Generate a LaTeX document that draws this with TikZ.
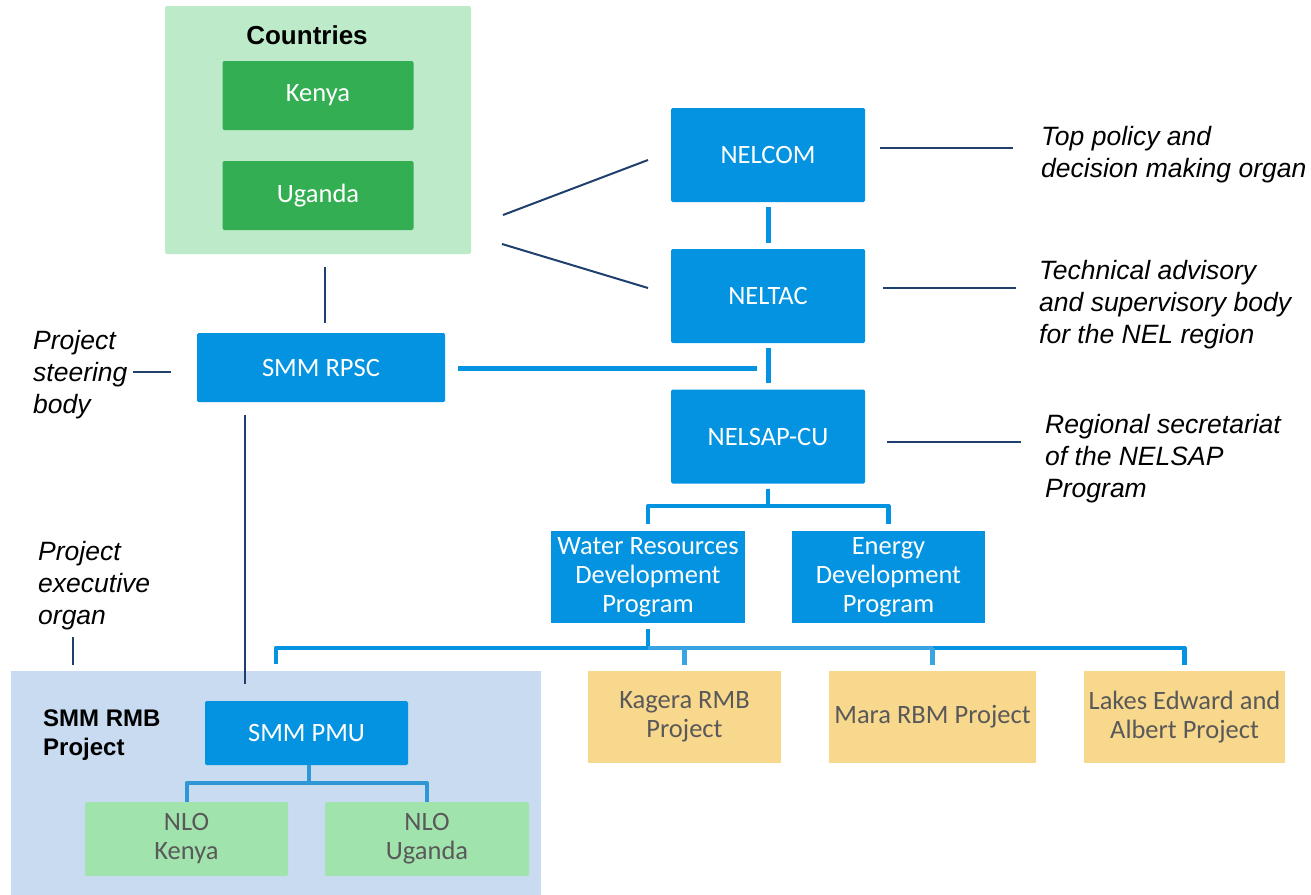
\documentclass[tikz,border=0pt]{standalone}
\usepackage{fontspec}
\newfontfamily\calfont{Carlito}
\newfontfamily\arialfont{Liberation Sans}
\definecolor{cblue}{HTML}{0393E0}
\definecolor{lblue}{HTML}{3AA4E2}
\definecolor{pblue}{HTML}{2F98D4}
\definecolor{navy}{HTML}{1F3F6E}
\definecolor{ggreen}{HTML}{34AE52}
\definecolor{gbgc}{HTML}{BDEBC9}
\definecolor{nlogreen}{HTML}{A0E3AC}
\definecolor{yell}{HTML}{F8D88C}
\definecolor{rmbbg}{HTML}{C9DBF1}
\definecolor{gtext}{HTML}{595959}
\tikzset{
  x=1pt,y=-1pt,
  boxfont/.style={font=\calfont\fontsize{26.5}{29}\selectfont},
  bluebox/.style={boxfont,fill=cblue,text=white,inner sep=0pt,align=center,rounded corners=1.5pt},
  greenbox/.style={boxfont,fill=ggreen,text=white,inner sep=0pt,align=center,rounded corners=2pt},
  nlobox/.style={boxfont,fill=nlogreen,text=gtext,inner sep=0pt,align=center,rounded corners=2pt},
  yellbox/.style={boxfont,fill=yell,text=gtext,inner sep=0pt,align=center},
  bgbox/.style={inner sep=0pt,rounded corners=2pt},
  anno/.style={inner sep=0pt,anchor=west,align=left,font=\arialfont\itshape\fontsize{26.5}{32}\selectfont},
  thinline/.style={draw=navy,line width=2pt},
  thickline/.style={draw=cblue,line width=5pt},
  brline/.style={draw=cblue,line width=4.5pt,line join=round},
}
\begin{document}
\begin{tikzpicture}
\useasboundingbox (0,0) rectangle (1311,894);
% backgrounds
\node[bgbox,fill=gbgc,minimum width=306,minimum height=248] (cbg) at (318,130) {};
\node[bgbox,fill=rmbbg,rounded corners=0pt,minimum width=530,minimum height=224] (rmb) at (276,783) {};
\node[inner sep=0pt,font=\arialfont\bfseries\fontsize{26}{30}\selectfont] (countries) at (307,35) {Countries};
\node[inner sep=0pt,anchor=west,align=left,font=\arialfont\bfseries\fontsize{24}{29}\selectfont] (rmblabel) at (43,735.5) {SMM RMB\\Project};
% boxes
\node[greenbox,minimum width=191,minimum height=69] (kenya) at (318,95.5) {Kenya};
\node[greenbox,minimum width=191,minimum height=69] (uganda) at (318,195.5) {Uganda};
\node[bluebox,minimum width=194,minimum height=94] (nelcom) at (768,155) {NELCOM};
\node[bluebox,minimum width=194,minimum height=94] (neltac) at (768,296) {NELTAC};
\node[bluebox,minimum width=194,minimum height=94] (nelsap) at (768,436.5) {NELSAP-CU};
\node[bluebox,minimum width=248,minimum height=69] (rpsc) at (321,367.5) {SMM RPSC};
\node[bluebox,rounded corners=0pt,minimum width=194,minimum height=92] (wrdp) at (648,577) {Water Resources\\Development\\Program};
\node[bluebox,rounded corners=0pt,minimum width=193,minimum height=92] (energy) at (888.5,577) {Energy\\Development\\Program};
\node[yellbox,minimum width=193,minimum height=92] (kagera) at (684.5,717) {Kagera RMB\\Project};
\node[yellbox,minimum width=207,minimum height=92] (mara) at (932.5,717) {Mara RBM Project};
\node[yellbox,minimum width=201,minimum height=92] (lakes) at (1184.5,717) {Lakes Edward and\\Albert Project};
\node[bluebox,minimum width=203,minimum height=64] (pmu) at (306.5,733) {SMM PMU};
\node[nlobox,minimum width=203,minimum height=74] (nlok) at (186.5,839) {NLO\\Kenya};
\node[nlobox,minimum width=204,minimum height=74] (nlou) at (427,839) {NLO\\Uganda};
% annotations
\node[anno] (a1) at (1041,155) {Top policy and\\decision making organ};
\node[anno] (a2) at (1039,305) {Technical advisory\\and supervisory body\\for the NEL region};
\node[anno] (a3) at (1045,458.5) {Regional secretariat\\of the NELSAP\\Program};
\node[anno] (a4) at (33,374.5) {Project\\steering\\body};
\node[anno] (a5) at (38,586) {Project\\executive\\organ};
% thin navy connectors
\coordinate (d1s) at (503,215);
\coordinate (d1e) at (648,160);
\coordinate (d2s) at (502,244);
\coordinate (d2e) at (648,288);
\draw[thinline] (d1s) -- (d1e);
\draw[thinline] (d2s) -- (d2e);
\coordinate (cx) at (325,0);
\draw[thinline,shorten <=13pt,shorten >=10pt] (cbg.south -| cx) -- (rpsc.north -| cx);
\coordinate (n1s) at (880,148); \coordinate (n1e) at (1013,148);
\draw[thinline] (n1s) -- (n1e);
\coordinate (n2s) at (883,288); \coordinate (n2e) at (1016,288);
\draw[thinline] (n2s) -- (n2e);
\coordinate (n3s) at (887,442); \coordinate (n3e) at (1021,442);
\draw[thinline] (n3s) -- (n3e);
\coordinate (s1s) at (133,372); \coordinate (s1e) at (171,372);
\draw[thinline] (s1s) -- (s1e);
\coordinate (e1s) at (73,637);
\draw[thinline,shorten >=6pt] (e1s) -- (rmb.north -| e1s);
\coordinate (p1s) at (245,415); \coordinate (p1e) at (245,684);
\draw[thinline] (p1s) -- (p1e);
% thick blue connectors
\draw[thickline,shorten <=5pt,shorten >=6pt] (nelcom.south) -- (neltac.north);
\draw[thickline,shorten <=5pt,shorten >=6pt] (neltac.south) -- (nelsap.north);
\coordinate (rp) at (757,368);
\draw[thickline,shorten <=13pt] (rpsc.east |- rp) -- (rp);
% bracket nelsap -> programs
\coordinate (b1) at (768,506);
\draw[brline,shorten <=5pt] (nelsap.south) -- (b1);
\draw[brline,shorten <=7pt,shorten >=7pt] (wrdp.north) -- (wrdp.north |- b1) -- (energy.north |- b1) -- (energy.north);
% bracket wrdp -> projects
\coordinate (b2) at (648,648);
\draw[brline,shorten <=6pt] (wrdp.south) -- (b2);
\draw[brline,shorten >=7pt] (b2) -- (rmb.north |- b2) -- (rmb.north);
\draw[brline,draw=lblue] (b2) -- (mara.north |- b2);
\draw[brline,shorten >=6pt] (mara.north |- b2) -- (lakes.north |- b2) -- (lakes.north);
\draw[brline,draw=lblue,shorten >=6pt] (kagera.north |- b2) -- (kagera.north);
\draw[brline,draw=lblue,shorten >=6pt] (mara.north |- b2) -- (mara.north);
% bracket pmu -> nlo
\coordinate (b3) at (309,783);
\draw[brline,draw=pblue,line width=4pt] (pmu.south -| b3) -- (b3);
\draw[brline,draw=pblue,line width=4pt] (nlok.north) -- (nlok.north |- b3) -- (nlou.north |- b3) -- (nlou.north);
\end{tikzpicture}
\end{document}
